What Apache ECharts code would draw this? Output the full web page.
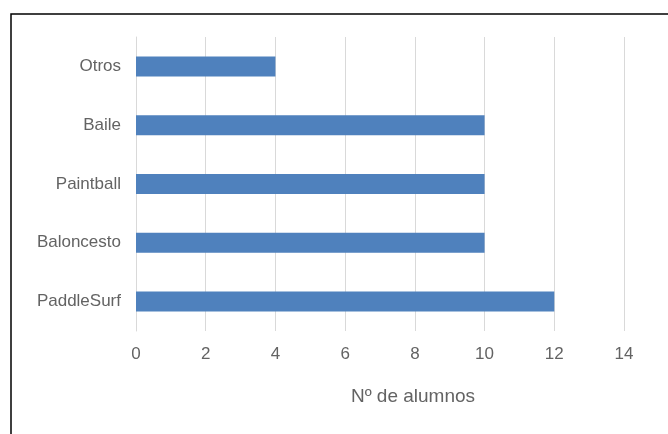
<!DOCTYPE html>
<html>
<head>
<meta charset="utf-8">
<script src="https://cdn.jsdelivr.net/npm/echarts@6/dist/echarts.min.js"></script>
<style>
  html, body { margin: 0; padding: 0; background: #fff; }
  #chart { width: 668px; height: 434px; }
</style>
</head>
<body>
<div id="chart"></div>
<script>
// actividades y número de alumnos
const categories = ['Otros', 'Baile', 'Paintball', 'Baloncesto', 'PaddleSurf'];
const alumnos = [4, 10, 10, 10, 12];
const xTicks = [0, 2, 4, 6, 8, 10, 12, 14];

const chart = echarts.init(document.getElementById('chart'));
chart.setOption({
  animation: false,
  textStyle: { fontFamily: 'Liberation Sans, Arial, sans-serif' },
  graphic: [
    {
      type: 'rect',
      shape: { x: 11, y: 14, width: 720, height: 500 },
      style: { fill: 'none', stroke: '#000', lineWidth: 1.5 }
    }
  ],
  grid: { left: 136, right: 44, top: 37, bottom: 103 },
  xAxis: {
    type: 'value',
    min: xTicks[0],
    max: xTicks[xTicks.length - 1],
    interval: 2,
    name: 'Nº de alumnos',
    nameLocation: 'middle',
    nameGap: 56,
    nameTextStyle: { color: '#636363', fontSize: 19, padding: [0, 0, 0, 66] },
    axisLine: { show: false },
    axisTick: { show: false },
    axisLabel: { color: '#636363', fontSize: 17, margin: 15 },
    splitLine: { lineStyle: { color: '#d9d9d9', width: 1 } }
  },
  yAxis: {
    type: 'category',
    data: categories,
    inverse: true,
    axisLine: { show: true, lineStyle: { color: '#d9d9d9', width: 1 } },
    axisTick: { show: false },
    axisLabel: { color: '#636363', fontSize: 17, margin: 15 }
  },
  series: [
    {
      type: 'bar',
      data: alumnos,
      barWidth: 20,
      itemStyle: { color: '#4f81bd' }
    }
  ]
});
</script>
</body>
</html>
